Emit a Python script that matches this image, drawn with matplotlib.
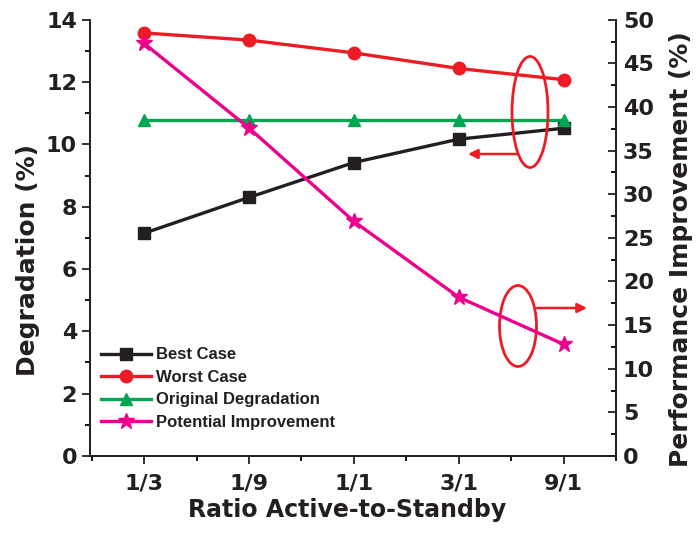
import matplotlib
matplotlib.use("Agg")
import matplotlib.pyplot as plt
from matplotlib.patches import Ellipse
from matplotlib.ticker import MultipleLocator

plt.rcParams['font.family'] = ['DejaVu Sans']
plt.rcParams['font.weight'] = 'bold'

categories = ["1/3", "1/9", "1/1", "3/1", "9/1"]
best_case = [7.15, 8.3, 9.42, 10.17, 10.52]
worst_case = [13.58, 13.35, 12.94, 12.44, 12.08]
original = [10.8, 10.8, 10.8, 10.8, 10.8]
potential = [47.3, 37.6, 26.9, 18.2, 12.8]

c_black = "#231F20"
c_red = "#ED1C24"
c_green = "#00A651"
c_mag = "#EC008C"

fig = plt.figure(figsize=(7, 5.37), dpi=100)
ax = fig.add_axes([0.128, 0.151, 0.752, 0.812])
ax2 = ax.twinx()

x = list(range(len(categories)))
lw = 2.4
l1, = ax.plot(x, best_case, color=c_black, lw=lw, marker='s', ms=8, label="Best Case")
l2, = ax.plot(x, worst_case, color=c_red, lw=lw, marker='o', ms=9, label="Worst Case")
l3, = ax.plot(x, original, color=c_green, lw=lw, marker='^', ms=9, label="Original Degradation")
l4, = ax2.plot(x, potential, color=c_mag, lw=lw, marker='*', ms=12, label="Potential Improvement")

ax.set_xlim(-0.52, 4.5)
ax.set_ylim(0, 14)
ax2.set_ylim(0, 50)
ax.set_xticks(x)
ax.set_xticklabels(categories)
ax.xaxis.set_minor_locator(MultipleLocator(0.5))
ax.yaxis.set_major_locator(MultipleLocator(2))
ax.yaxis.set_minor_locator(MultipleLocator(1))
ax2.yaxis.set_major_locator(MultipleLocator(5))
ax2.yaxis.set_minor_locator(MultipleLocator(2.5))

for a in (ax, ax2):
    a.spines['top'].set_visible(False)
    for s in a.spines.values():
        s.set_linewidth(1.3)
        s.set_color(c_black)

tick_fs = 16
ax.tick_params(axis='both', which='major', direction='out', length=6, width=1.3,
               labelsize=tick_fs, colors=c_black, pad=3)
ax.tick_params(axis='x', which='major', pad=7)
ax.tick_params(axis='both', which='minor', direction='out', length=3.5, width=1.3)
ax2.tick_params(axis='y', which='major', direction='in', length=6, width=1.3,
                labelsize=tick_fs, colors=c_black, pad=5)
ax2.tick_params(axis='y', which='minor', direction='in', length=3.5, width=1.3)

for lab in ax.get_xticklabels() + ax.get_yticklabels() + ax2.get_yticklabels():
    lab.set_fontweight('bold')

ax.set_xlabel("Ratio Active-to-Standby", fontsize=17, fontweight='bold', color=c_black, labelpad=3)
ax.set_ylabel("Degradation (%)", fontsize=18, fontweight='bold', color=c_black, labelpad=4)
ax2.set_ylabel("Performance Improvement (%)", fontsize=18, fontweight='bold', color=c_black, labelpad=11)
ax.yaxis.label.set_y(0.45)
ax2.yaxis.label.set_y(0.475)
ax.xaxis.label.set_x(0.49)

leg = ax.legend(handles=[l1, l2, l3, l4], loc='lower left', bbox_to_anchor=(0.0, 0.033),
                frameon=False, prop={'family': 'Liberation Sans', 'weight': 'bold', 'size': 12},
                handlelength=3.0, handletextpad=0.3, labelspacing=0.45, borderaxespad=0.3)
for t in leg.get_texts():
    t.set_color(c_black)

# annotation ellipses and arrows (pixel-derived, in axes fraction)
def px2ax(px, py):
    inv = ax.transAxes.inverted()
    return inv.transform(fig.transFigure.transform((px / 700, 1 - py / 537)))

W_ax = 0.752 * 700
H_ax = 0.812 * 537
c1 = px2ax(530, 112)
e1 = Ellipse(c1, 36 / W_ax, 111 / H_ax, transform=ax.transAxes, fill=False,
             edgecolor=c_red, lw=2.0, zorder=5)
ax.add_patch(e1)
a_start = px2ax(518, 154)
a_end = px2ax(468, 154)
ax.annotate("", xy=a_end, xytext=a_start, xycoords='axes fraction', textcoords='axes fraction',
            arrowprops=dict(arrowstyle='-|>', color=c_red, lw=1.8, mutation_scale=14,
                            shrinkA=0, shrinkB=0), zorder=5)

c2 = px2ax(518, 326)
e2 = Ellipse(c2, 37 / W_ax, 81 / H_ax, transform=ax.transAxes, fill=False,
             edgecolor=c_red, lw=2.0, zorder=5)
ax.add_patch(e2)
b_start = px2ax(537, 308)
b_end = px2ax(587, 308)
ax.annotate("", xy=b_end, xytext=b_start, xycoords='axes fraction', textcoords='axes fraction',
            arrowprops=dict(arrowstyle='-|>', color=c_red, lw=1.8, mutation_scale=14,
                            shrinkA=0, shrinkB=0), zorder=5)

fig.savefig("out.png", dpi=100)
